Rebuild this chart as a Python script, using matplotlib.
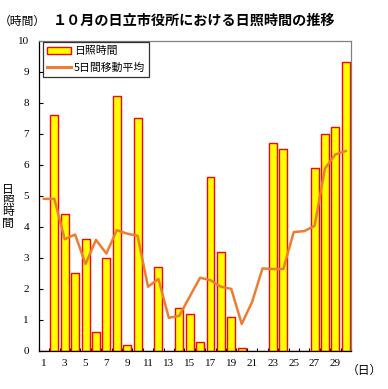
import matplotlib
matplotlib.use("Agg")
import matplotlib.pyplot as plt
from matplotlib.patches import Patch
from matplotlib.lines import Line2D
from matplotlib.ticker import FixedLocator

plt.rcParams['font.family'] = ['Noto Sans CJK JP', 'DejaVu Sans']

days = list(range(1, 31))
sunshine = [0, 7.6, 4.4, 2.5, 3.6, 0.6, 3.0, 8.2, 0.2, 7.5,
            0, 2.7, 0, 1.4, 1.2, 0.3, 5.6, 3.2, 1.1, 0.1,
            0, 0, 6.7, 6.5, 0, 0, 5.9, 7.0, 7.2, 9.3]
moving_avg = [4.9, 4.9, 3.6, 3.75, 2.8, 3.58, 3.14, 3.89, 3.78, 3.71,
              2.07, 2.32, 1.07, 1.13, 1.75, 2.36, 2.28, 2.07, 2.0, 0.87,
              1.58, 2.66, 2.64, 2.64, 3.83, 3.86, 4.03, 5.88, 6.33, 6.44]
xtick_labels = [str(d) for d in range(1, 31, 2)]
yticks = list(range(0, 11))

W, H = 388, 389
fig = plt.figure(figsize=(W / 100, H / 100), dpi=100)
ax = fig.add_axes([38.7 / W, 1 - 351 / H, (351 - 38.7) / W, (351 - 40.5) / H])

ax.bar(days, sunshine, width=0.76, color='#FFFF00', edgecolor='#FF0000',
       linewidth=1.0, zorder=2)
ax.plot(days, moving_avg, color='#ED7D31', linewidth=1.8, zorder=3)

ax.set_xlim(0.5, 30.5)
ax.set_ylim(0, 10)
ax.set_yticks(yticks)
ax.set_yticklabels([str(v) for v in yticks], family='Liberation Serif', fontsize=8)
ax.set_xticks(list(range(1, 31, 2)))
ax.set_xticklabels(xtick_labels, family='Liberation Serif', fontsize=8)
ax.xaxis.set_minor_locator(FixedLocator([d + 0.5 for d in range(0, 31)]))
ax.tick_params(axis='x', which='major', length=0, pad=6)
ax.tick_params(axis='x', which='minor', length=2.5, direction='in', width=0.8)
ax.tick_params(axis='y', which='major', length=3, direction='in', width=0.8, pad=7)

for s in ['left', 'bottom']:
    ax.spines[s].set_color('black')
    ax.spines[s].set_linewidth(0.9)
for s in ['top', 'right']:
    ax.spines[s].set_color('#808080')
    ax.spines[s].set_linewidth(0.9)

handles = [Patch(facecolor='#FFFF00', edgecolor='#FF0000', linewidth=1.0),
           Line2D([0], [0], color='#ED7D31', linewidth=2.2)]
leg = ax.legend(handles, ['日照時間', '5日間移動平均'], loc='upper left',
                bbox_to_anchor=(4.6 / (351 - 38.7), 1 - 1.8 / (351 - 40.5)),
                fontsize=7.8, frameon=True, fancybox=False, edgecolor='black',
                borderpad=0.35, handlelength=2.2, handleheight=0.6,
                handletextpad=0.3, labelspacing=0.6, borderaxespad=0)
leg.get_frame().set_linewidth(0.9)

fig.text(194 / W, 1 - 21 / H, '１０月の日立市役所における日照時間の推移',
         ha='center', va='center', fontsize=10.2, fontweight='bold')
fig.text(22 / W, 1 - 21 / H, '（時間）', ha='center', va='center', fontsize=8.5)
for i, ch in enumerate('日照時間'):
    fig.text(8 / W, 1 - (189 + i * 11.5) / H, ch, ha='center', va='center',
             fontsize=8.5)
fig.text(364 / W, 1 - 370 / H, '（日）', ha='center', va='center', fontsize=8.5)

fig.savefig('out.png', dpi=100)
